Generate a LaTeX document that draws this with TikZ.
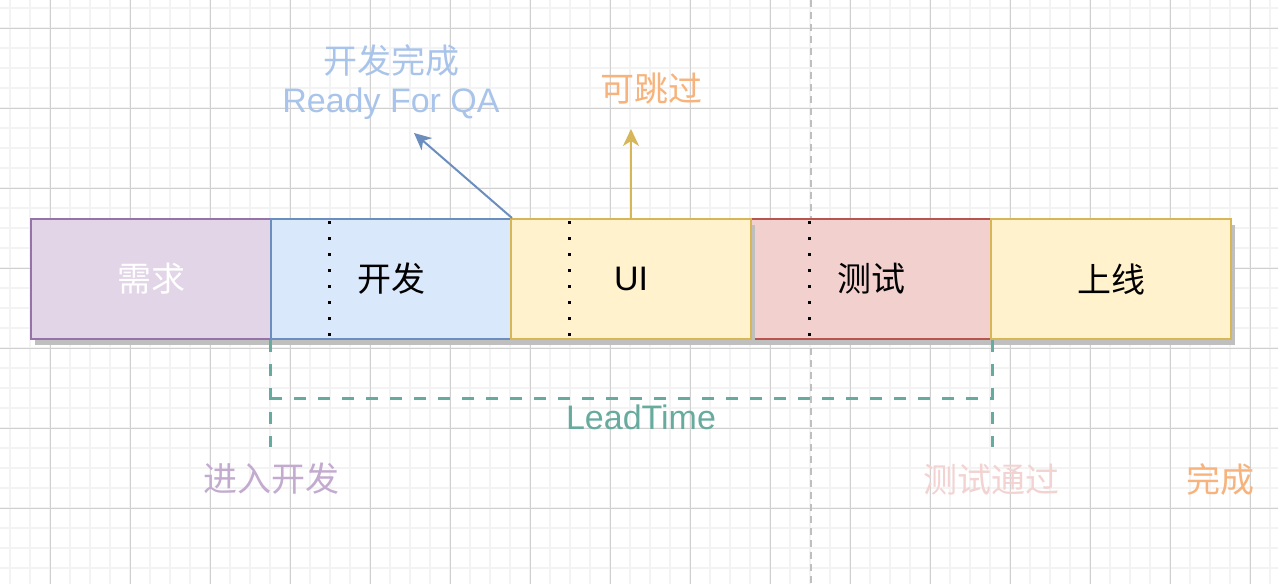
\documentclass[tikz,border=0pt]{standalone}
\usepackage{fontspec}
\setmainfont{Liberation Sans}
\newfontfamily\cjk{Noto Sans CJK SC}
\usetikzlibrary{shadows,arrows.meta,calc}
\definecolor{gridminor}{HTML}{F3F3F3}
\definecolor{gridmajor}{HTML}{D0D0D0}
\definecolor{purpleF}{HTML}{E1D5E7}
\definecolor{purpleD}{HTML}{9673A6}
\definecolor{blueF}{HTML}{DAE8FC}
\definecolor{blueD}{HTML}{6C8EBF}
\definecolor{yelF}{HTML}{FFF2CC}
\definecolor{yelD}{HTML}{D6B656}
\definecolor{redF}{HTML}{F2D0CE}
\definecolor{redD}{HTML}{B85450}
\definecolor{leadC}{HTML}{67AB9F}
\definecolor{ltblue}{HTML}{A9C4EB}
\definecolor{ltorange}{HTML}{F7B37B}
\definecolor{ltpurple}{HTML}{C3ABD0}
\definecolor{ltpink}{HTML}{F2D3D1}
\begin{document}
\begin{tikzpicture}[x=1pt,y=-1pt,
  box/.style={rectangle, minimum width=240pt, minimum height=120pt, inner sep=0pt,
    line width=2pt, font=\cjk\fontsize{34}{40}\selectfont,
    drop shadow={shadow xshift=3.5pt, shadow yshift=-5.5pt, fill=black!25, opacity=1}},
  dotline/.style={line width=3pt, dash pattern=on 3pt off 13pt},
  lead/.style={leadC, line width=3pt, dash pattern=on 12pt off 12pt},
  lbl/.style={inner sep=0pt, font=\cjk\fontsize{34}{40}\selectfont},
  latinlbl/.style={inner sep=0pt, font=\fontsize{34}{40}\selectfont},
  arr/.style={line width=2pt, -{Stealth[length=17pt,width=16pt,inset=5pt]}}]
\useasboundingbox (0,0) rectangle (1278,584);
\fill[white] (0,0) rectangle (1278,584);
% grid
\foreach \x in {10,30,...,1270} \draw[gridminor,line width=2pt] (\x,0) -- (\x,584);
\foreach \y in {8,28,...,584} \draw[gridminor,line width=2pt] (0,\y) -- (1278,\y);
\foreach \x in {50,130,...,1250} \draw[gridmajor,line width=1pt] (\x,0) -- (\x,584);
\foreach \y in {28,108,...,584} \draw[gridmajor,line width=1pt] (0,\y) -- (1278,\y);
% gray dashed separator
\draw[black!25, line width=2pt, dash pattern=on 7pt off 5pt] (811,0) -- (811,584);
% boxes
\node[box, fill=purpleF, draw=purpleD, text=white] (req) at (151,279) {需求};
\node[box, fill=blueF, draw=blueD] (dev) at (391,279) {开发};
\node[box, fill=redF, draw=redD] (test) at (871,279) {测试};
\node[box, fill=yelF, draw=yelD, font=\fontsize{34}{40}\selectfont] (ui) at (631,279) {UI};
\node[box, fill=yelF, draw=yelD] (live) at (1111,279) {上线};
% dotted lines
\draw[dotline] ($(dev.north west)+(59,3)$) -- ($(dev.south west)+(59,0)$);
\draw[dotline] ($(ui.north west)+(59,3)$) -- ($(ui.south west)+(59,0)$);
\draw[dotline] ($(test.north west)+(59,3)$) -- ($(test.south west)+(59,0)$);
% lead time bracket
\draw[lead] (dev.south west) -- ++(0,107);
\draw[lead] (test.south east) -- ++(0,107);
\draw[lead] ($(dev.south west)+(0,58)$) -- ($(test.south east)+(0,58)$);
\node[latinlbl, text=leadC] (leadtime) at (641,417) {LeadTime};
% arrows
\coordinate (rfqa) at (414,133);
\coordinate (skip) at (631,129);
\draw[arr, blueD] (dev.north east) -- (rfqa);
\draw[arr, yelD] (ui.north) -- (skip);
% labels
\node[lbl, text=ltblue] (devdone) at (391,61) {开发完成};
\node[latinlbl, text=ltblue, anchor=base] (ready) at (391,112) {Ready For QA};
\node[lbl, text=ltorange] (skiplbl) at (651,89) {可跳过};
\node[lbl, text=ltpurple] (enter) at (271,479) {进入开发};
\node[lbl, text=ltpink] (pass) at (991,480) {测试通过};
\node[lbl, text=ltorange] (done) at (1220,480) {完成};
\end{tikzpicture}
\end{document}
